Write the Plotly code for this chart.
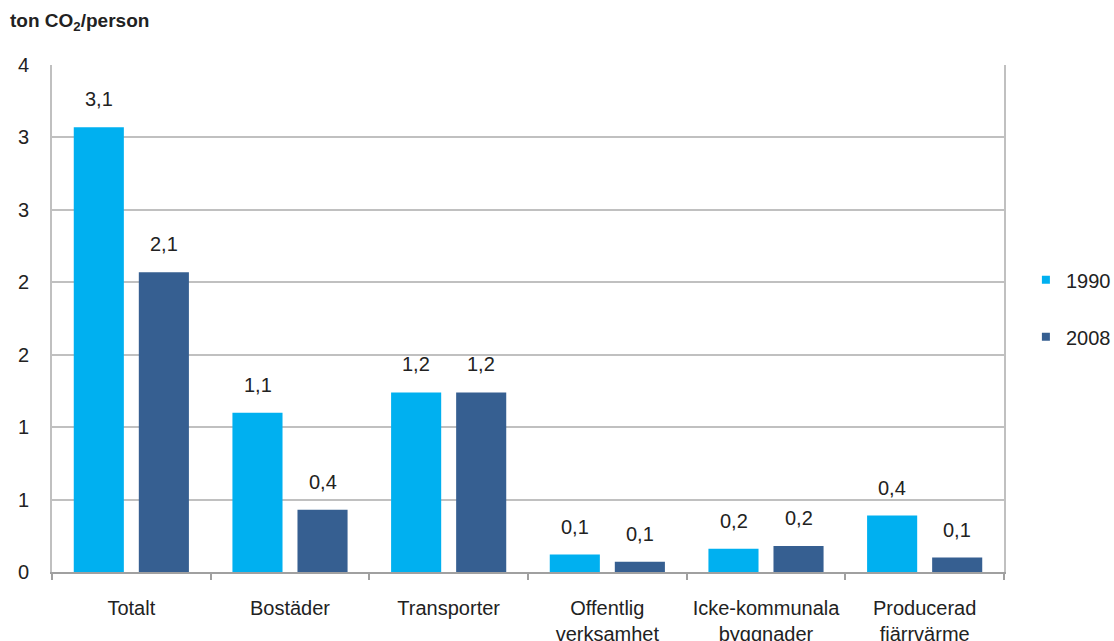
import plotly.graph_objects as go

categories = ["Totalt", "Bostäder", "Transporter", "Offentlig<br>verksamhet",
              "Icke-kommunala<br>byggnader", "Producerad<br>fjärrvärme"]
series_names = ["1990", "2008"]
values_1990 = [3.07, 1.10, 1.24, 0.12, 0.16, 0.39]
values_2008 = [2.07, 0.43, 1.24, 0.07, 0.18, 0.10]
tick_values = [0, 0.5, 1, 1.5, 2, 2.5, 3, 3.5]
tick_labels = ["0", "1", "1", "2", "2", "3", "3", "4"]

colors = ["#00B0F0", "#365F91"]
FONT = "Liberation Sans, Arial, sans-serif"
TXT = "#222222"
FS = 20

fig = go.Figure()
for name, vals, col in zip(series_names, [values_1990, values_2008], colors):
    fig.add_trace(go.Bar(x=categories, y=vals, name=name, marker_color=col,
                         marker_line_width=0, showlegend=False, hoverinfo="y"))
    fig.add_trace(go.Scatter(x=[None], y=[None], mode="markers", name=name,
                             marker=dict(symbol="square", size=8, color=col),
                             legendgroup=name))

def fmt(v):
    return f"{v:.1f}".replace(".", ",")

annotations = []
for vals, shift in [(values_1990, -32.5), (values_2008, 32.5)]:
    for cat, v in zip(categories, vals):
        annotations.append(dict(x=cat, y=v, xref="x", yref="y", text=fmt(v),
                                showarrow=False, xshift=shift, yshift=15,
                                yanchor="bottom",
                                font=dict(family=FONT, size=FS, color=TXT)))
annotations.append(dict(x=8, y=641 - 22, xref="paper", yref="paper",
                        text="<b>ton CO<sub>2</sub>/person</b>", showarrow=False,
                        xanchor="left", yanchor="middle",
                        font=dict(family=FONT, size=19, color=TXT)))
# convert title pixel position to paper coords
pw, ph = 1114 - 52 - 110, 641 - 65 - 69
annotations[-1]["x"] = (8 - 52) / pw
annotations[-1]["y"] = ((641 - 22) - 69) / ph

fig.update_layout(
    width=1114, height=641,
    margin=dict(l=52, r=110, t=65, b=69, autoexpand=False),
    paper_bgcolor="white", plot_bgcolor="white",
    barmode="group", bargap=0.18, bargroupgap=0.23,
    font=dict(family=FONT, size=FS, color=TXT),
    annotations=annotations,
    legend=dict(x=1.023, y=0.52, xanchor="left", yanchor="middle",
                font=dict(family=FONT, size=FS, color=TXT),
                tracegroupgap=28, traceorder="grouped", itemwidth=30,
                bgcolor="rgba(0,0,0,0)"),
    xaxis=dict(showgrid=False, showline=True, linecolor="#A0A0A0", linewidth=2,
               ticks="outside", tickson="boundaries", ticklen=6,
               tickcolor="#A0A0A0", tickwidth=2, ticklabelstandoff=17,
               automargin=False,
               tickfont=dict(family=FONT, size=FS, color=TXT), fixedrange=True),
    yaxis=dict(range=[0, 3.5], tickvals=tick_values, ticktext=tick_labels,
               showgrid=True, gridcolor="#C0C0C0", gridwidth=2,
               showline=True, linecolor="#C0C0C0", linewidth=2, mirror=True,
               ticks="", ticklabelstandoff=17, zeroline=False, automargin=False,
               tickfont=dict(family=FONT, size=FS, color=TXT), fixedrange=True),
)

fig.write_html("out.html")
